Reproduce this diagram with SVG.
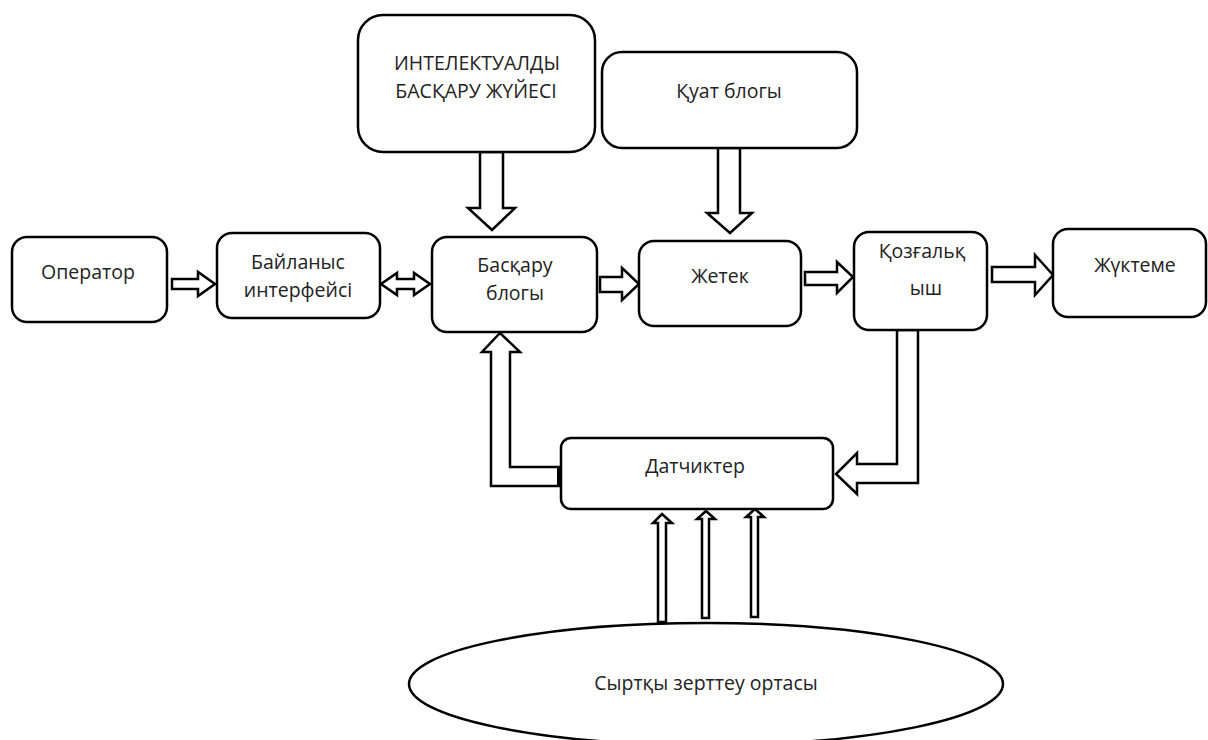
<svg xmlns="http://www.w3.org/2000/svg" width="1208" height="740" viewBox="0 0 1208 740">
<style>
.box{fill:#fff;stroke:#000;stroke-width:2.5}
.arr{fill:#fff;stroke:#000;stroke-width:2.5;stroke-linejoin:miter}
.t{font-family:"Open Sans","Noto Sans",sans-serif;font-size:19.5px;fill:#222;text-anchor:middle}
</style>
<rect width="1208" height="740" fill="#fff"/>
<g id="connectors">
<polygon class="arr" points="172,279 198,279 198,272 215,284 198,296 198,289 172,289"/>
<polygon class="arr" points="381,284 397,273 397,279 414,279 414,273 430,284 414,295 414,289 397,289 397,295"/>
<polygon class="arr" points="600,277 622,277 622,268 639,284 622,300 622,292 600,292"/>
<polygon class="arr" points="805,272 837,272 837,262 853,277 837,293 837,285 805,285"/>
<polygon class="arr" points="992,267 1035,267 1035,255 1053,275 1035,295 1035,282 992,282"/>
<polygon class="arr" points="480,152 503,152 503,208 515,208 492,230 468,208 480,208"/>
<polygon class="arr" points="718,148 740,148 740,213 752,213 730,233 707,213 718,213"/>
<polygon class="arr" points="897,330 918,330 918,483 857,483 857,494 836,474 857,453 857,464 897,464"/>
<polygon class="arr" points="561,467 510,467 510,352 520,352 500,333 482,352 491,352 491,486 561,486"/>
<polygon class="arr" points="658,622 666,622 666,523 672,523 662,514 653,523 658,523"/>
<polygon class="arr" points="702,618 709,618 709,519 715,519 706,511 697,519 702,519"/>
<polygon class="arr" points="751,617 758,617 758,517 764,517 755,509 746,517 751,517"/>
</g>
<g id="operator"><rect class="box" x="12" y="237" width="155" height="85" rx="15"/><text class="t" x="88" y="279">Оператор</text></g>
<g id="bailanys"><rect class="box" x="217" y="233" width="163" height="85" rx="15"/><text class="t" x="298" y="269">Байланыс</text><text class="t" x="298" y="297">интерфейсі</text></g>
<g id="intelekt"><rect class="box" x="358" y="15" width="237" height="137" rx="25"/><text class="t" x="477" y="70">ИНТЕЛЕКТУАЛДЫ</text><text class="t" x="476" y="98">БАСҚАРУ ЖҮЙЕСІ</text></g>
<g id="quat"><rect class="box" x="602" y="52" width="255" height="96" rx="20"/><text class="t" x="729" y="98">Қуат блогы</text></g>
<g id="baskaru"><rect class="box" x="432" y="237" width="165" height="95" rx="15"/><text class="t" x="515" y="272">Басқару</text><text class="t" x="515" y="300">блогы</text></g>
<g id="zhetek"><rect class="box" x="639" y="241" width="162" height="85" rx="15"/><text class="t" x="720" y="283">Жетек</text></g>
<g id="kozgal"><rect class="box" x="854" y="232" width="133" height="98" rx="15"/><text class="t" x="922" y="258">Қозғальқ</text><text class="t" x="926" y="295">ыш</text></g>
<g id="zhukteme"><rect class="box" x="1053" y="229" width="153" height="88" rx="15"/><text class="t" x="1135" y="272">Жүктеме</text></g>
<g id="datchik"><rect class="box" x="561" y="438" width="272" height="71" rx="10"/><rect x="557" y="467" width="5" height="19" fill="#000"/><text class="t" x="695" y="473">Датчиктер</text></g>
<g id="ortasy"><ellipse class="box" cx="706" cy="684" rx="297" ry="61"/><text class="t" x="706" y="690">Сыртқы зерттеу ортасы</text></g>
</svg>
